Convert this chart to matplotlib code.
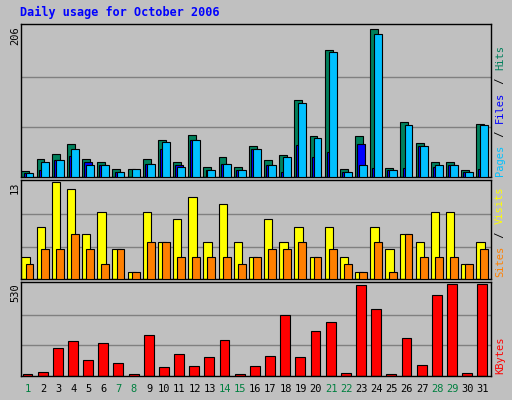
import matplotlib
matplotlib.use("Agg")
import matplotlib.pyplot as plt
import numpy as np

days = list(range(1, 32))
weekend = [1, 7, 8, 14, 15, 21, 22, 28, 29]
hits = [8,25,32,46,25,21,11,11,25,51,21,58,14,27,14,42,24,30,106,56,175,11,56,203,13,76,47,21,21,10,73]
files = [6,10,24,29,21,16,7,0,18,39,16,51,10,18,9,39,17,7,44,28,35,7,46,13,10,13,43,14,16,7,11]
pages = [6,21,24,39,16,16,7,11,18,48,14,51,10,18,10,39,17,27,102,53,172,7,16,197,10,72,43,16,16,7,71]
visits = [3,7,13,12,6,9,4,1,9,5,8,11,5,10,5,3,8,5,7,3,7,3,1,7,4,6,5,9,9,2,5]
sites = [2,4,4,6,4,2,4,1,5,5,3,3,3,3,2,3,4,4,5,3,4,2,1,5,1,6,3,3,3,2,4]
kbytes = [10,21,160,200,91,189,73,9,235,50,125,56,108,206,9,56,114,351,108,258,310,15,524,385,9,218,62,466,530,15,530]

W, H = 512, 400
fig = plt.figure(figsize=(W/100, H/100), dpi=100)
fig.patch.set_facecolor('#c0c0c0')
bg = '#c0c0c0'
mono = 'DejaVu Sans Mono'

def ax_at(top, bottom):
    return fig.add_axes([21/W, 1-bottom/H, 470/W, (bottom-top)/H])

x = np.array(days, dtype=float)
ec = 'black'
lw = 0.8

def style(ax, ymax):
    ax.set_facecolor(bg)
    ax.set_xlim(1, 32)
    ax.set_ylim(0, ymax*1.02)
    for g in (ymax/3, 2*ymax/3):
        ax.axhline(g, color='#808080', lw=1, zorder=0)
    ax.set_xticks([]); ax.set_yticks([])
    for s in ax.spines.values():
        s.set_linewidth(1); s.set_color('black')

a1 = ax_at(24, 177)
a1.bar(x+0.03, hits, 0.52, align='edge', color='#00805c', ec=ec, lw=lw, zorder=2)
a1.bar(x+0.17, files, 0.52, align='edge', color='#0000ff', ec=ec, lw=lw, zorder=3)
a1.bar(x+0.30, pages, 0.52, align='edge', color='#00c0ff', ec=ec, lw=lw, zorder=4)
style(a1, 206)

a2 = ax_at(180, 279)
a2.bar(x+0.03, visits, 0.55, align='edge', color='#ffff00', ec=ec, lw=lw, zorder=2)
a2.bar(x+0.30, sites, 0.52, align='edge', color='#ff8000', ec=ec, lw=lw, zorder=3)
style(a2, 13)

a3 = ax_at(282, 376)
a3.bar(x+0.1, kbytes, 0.65, align='edge', color='#ff0000', ec=ec, lw=lw, zorder=2)
style(a3, 530)

fs = 7.5
fig.text(20/W, 1-12/H, 'Daily usage for October 2006', color='#0000ff', family=mono,
         fontweight='bold', fontsize=8.5, va='center', ha='left')
for ypx, lab in [(26, '206'), (181, '13'), (283, '530')]:
    fig.text(15/W, 1-ypx/H, lab, rotation=90, family=mono, fontsize=fs, ha='center', va='top')

cw = 6.6  # px per char
def vlabel(bottom_px, parts):
    y = bottom_px
    for txt, col in parts:
        fig.text(500/W, 1-y/H, txt, rotation=90, family=mono, fontsize=fs, color=col,
                 ha='center', va='bottom')
        y -= cw*len(txt)
vlabel(176, [('Pages', '#00c0ff'), (' / ', 'black'), ('Files', '#0000ff'), (' / ', 'black'), ('Hits', '#00805c')])
vlabel(277, [('Sites', '#ff8000'), (' / ', 'black'), ('Visits', '#ffff00')])
vlabel(374, [('KBytes', '#ff0000')])

for d in days:
    xf = (21 + (d - 1 + 0.45) * 470/31) / W
    fig.text(xf, 1-389/H, str(d), family=mono, fontsize=fs, ha='center', va='center',
             color='#008040' if d in weekend else 'black')

fig.savefig('out.png', dpi=100, facecolor=fig.get_facecolor())
